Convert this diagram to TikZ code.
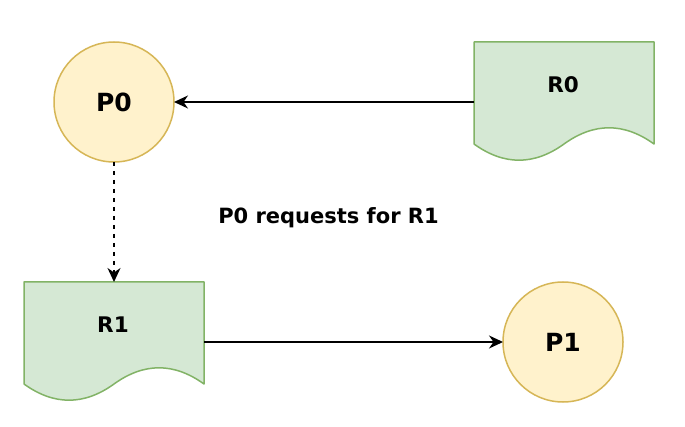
\documentclass[tikz,border=0pt]{standalone}
\usepackage{fontspec}
\setmainfont{DejaVu Sans}
\usetikzlibrary{arrows.meta,calc}
\definecolor{pfill}{HTML}{FFF2CC}
\definecolor{pdraw}{HTML}{D6B656}
\definecolor{rfill}{HTML}{D5E8D4}
\definecolor{rdraw}{HTML}{82B366}
\tikzset{
  proc/.style={circle,fill=pfill,draw=pdraw,line width=1.5pt,minimum size=120pt,inner sep=0pt,outer sep=0pt,font=\bfseries\fontsize{25}{29}\selectfont},
  docbox/.style={rectangle,draw=none,minimum width=180pt,minimum height=120pt,inner sep=0pt,outer sep=0pt},
  docline/.style={fill=rfill,draw=rdraw,line width=1.5pt,line join=round},
  doclabel/.style={font=\bfseries\fontsize{21.5}{25}\selectfont,inner sep=0pt},
  conn/.style={line width=1.5pt,-{Stealth[length=14pt,width=13pt,inset=4.5pt]}},
  dashconn/.style={conn,dash pattern=on 4.5pt off 4.5pt}
}
\newcommand{\docpath}[1]{%
  \draw[docline] (#1.north west) -- (#1.north east) -- ([shift={(0,102)}]#1.north east)
    .. controls ([shift={(150,80.4)}]#1.north west) and ([shift={(120,80.4)}]#1.north west) .. ([shift={(90,102)}]#1.north west)
    .. controls ([shift={(60,123.6)}]#1.north west) and ([shift={(30,123.6)}]#1.north west) .. ([shift={(0,102)}]#1.north west) -- cycle;}
\begin{document}
\begin{tikzpicture}[x=1pt,y=-1pt]
\useasboundingbox (0,0) rectangle (685,427);
\fill[white] (0,0) rectangle (685,427);
\node[docbox] (R0) at (564,102) {};
\node[docbox] (R1) at (114,342) {};
\docpath{R0}
\docpath{R1}
\node[doclabel] (R0t) at (563,85) {R0};
\node[doclabel] (R1t) at (113,325) {R1};
\node[proc] (P0) at (114,102) {P0};
\node[proc] (P1) at (563,342) {P1};
\node[font=\bfseries\fontsize{21}{25}\selectfont,inner sep=0pt] (lbl) at (328.5,218) {P0 requests for R1};
\draw[conn] (R0.west) -- (P0.east);
\draw[dashconn] (P0.south) -- (R1.north);
\draw[conn] (R1.east) -- (P1.west);
\end{tikzpicture}
\end{document}
